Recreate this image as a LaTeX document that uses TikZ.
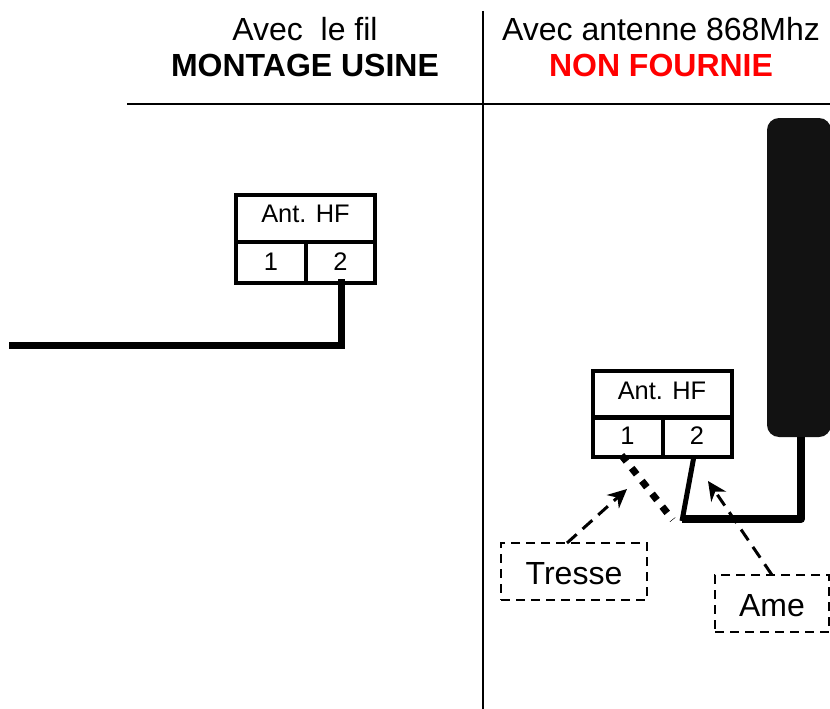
\documentclass[tikz,border=0pt]{standalone}
\usepackage{fontspec}
\setmainfont{Liberation Sans}
\usetikzlibrary{arrows.meta}
\newcommand{\lowered}[2]{\raisebox{-#1pt}[0pt][0pt]{#2}}
\tikzset{
  header/.style={inner sep=0pt,anchor=center,font=\fontsize{32}{36}\selectfont},
  headerbold/.style={inner sep=0pt,anchor=center,font=\fontsize{32}{36}\selectfont\bfseries},
  cell/.style={draw=black,line width=4pt,inner sep=0pt,font=\fontsize{25.4}{28}\selectfont},
  titlecell/.style={cell,minimum width=139pt,minimum height=47pt},
  leftcell/.style={cell,minimum width=70pt,minimum height=40pt},
  rightcell/.style={cell,minimum width=69pt,minimum height=40pt},
  callout/.style={draw=black,line width=2.7pt,dash pattern=on 9pt off 6pt,inner sep=0pt,font=\fontsize{32}{36}\selectfont},
  rule/.style={draw=black,line width=2pt},
  wire/.style={draw=black,line width=7pt,line join=miter},
  bigwire/.style={draw=black,line width=8pt,line join=round},
  thinwire/.style={draw=black,line width=5pt},
  braid/.style={draw=black,line width=7pt,dash pattern=on 8pt off 8.4pt},
  pointer/.style={draw=black,line width=3pt,dash pattern=on 13pt off 8pt,-{Stealth[length=19pt,width=18pt]}}
}
\begin{document}
\begin{tikzpicture}[x=1pt,y=-1pt]
\useasboundingbox (0,0) rectangle (830,709);
\fill[white] (0,0) rectangle (830,709);
% rules
\coordinate (ruleL) at (127,104);
\coordinate (ruleR) at (830,104);
\coordinate (ruleT) at (483,11);
\coordinate (ruleB) at (483,709);
\draw[rule] (ruleL) -- (ruleR);
\draw[rule] (ruleT) -- (ruleB);
% headers
\node[header] (h1) at (305,29) {Avec\ \ le fil};
\node[headerbold] (h2) at (305,65) {MONTAGE USINE};
\node[header] (h3) at (661,29) {Avec antenne 868Mhz};
\node[headerbold,text=red] (h4) at (661,65) {NON FOURNIE};
% left block
\node[titlecell] (lt) at (305.5,218.5) {\lowered{4}{Ant. HF}};
\node[leftcell,minimum height=41pt] (l1) at (271,262.5) {\lowered{7.8}{1}};
\node[rightcell,minimum height=41pt] (l2) at (340.5,262.5) {\lowered{7.8}{2}};
\coordinate (wl0) at (9,345);
\coordinate (wl1) at (341,345);
\coordinate (wl2) at (341,279);
\draw[wire] (wl0) -- (wl1) -- (wl2);
% antenna
\node[fill=black!93,draw=none,rounded corners=12pt,minimum width=64pt,minimum height=319pt,inner sep=0pt] (ant) at (799,277.5) {};
% right block
\node[titlecell] (rt) at (662,394) {\lowered{5}{Ant. HF}};
\node[leftcell] (r1) at (627.5,437) {\lowered{7.3}{1}};
\node[rightcell] (r2) at (697,437) {\lowered{7.3}{2}};
% wires
\coordinate (j) at (682,519);
\coordinate (s) at (801,519);
\coordinate (r2p) at (694,456);
\coordinate (r2q) at (682,521);
\coordinate (r1p) at (621.5,455.2);
\coordinate (b) at (672.7,519.8);
\draw[bigwire] (j) -- (s) -- (ant.south -| s);
\draw[thinwire] (r2p) -- (r2q);
\draw[braid] (r1p) -- (b);
% callouts
\node[callout,minimum width=146pt,minimum height=57pt] (tr) at (574,571.5) {\lowered{12.8}{Tresse}};
\node[callout,minimum width=114pt,minimum height=57pt] (am) at (772,603.5) {\lowered{12.5}{Ame}};
\coordinate (trs) at (567,543);
\coordinate (tre) at (627,489);
\coordinate (ams) at (772,575);
\coordinate (ame) at (708,481);
\draw[pointer] (trs) -- (tre);
\draw[pointer] (ams) -- (ame);
\end{tikzpicture}
\end{document}
